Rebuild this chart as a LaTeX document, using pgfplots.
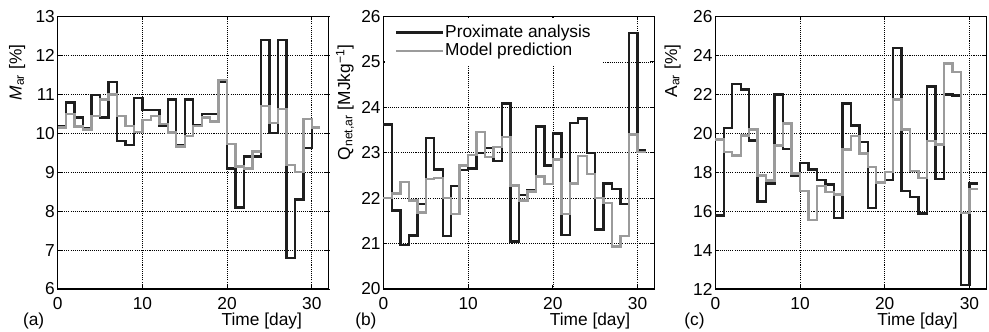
\documentclass[border=0pt]{standalone}
\usepackage{pgfplots}
\pgfplotsset{compat=1.18}
\usepackage{pgfplotstable}
\usepackage{fontspec}
\setmainfont{Liberation Sans}

\definecolor{lblack}{RGB}{30,30,30}
\definecolor{lgray}{RGB}{155,155,155}

\pgfplotstableread{
d v
0 10.19
1 10.79
2 10.41
3 10.13
4 10.98
5 10.40
6 11.32
7 9.80
8 9.70
9 10.90
10 10.60
11 10.60
12 10.20
13 10.87
14 9.70
15 10.87
16 10.21
17 10.50
18 10.50
19 11.32
20 9.09
21 8.09
22 9.40
23 9.40
24 12.39
25 10.00
26 12.39
27 6.79
28 8.30
29 9.62
30 10.13
31 10.13
}\Ablack
\pgfplotstableread{
d v
0 10.15
1 10.50
2 10.17
3 10.10
4 10.44
5 10.87
6 11.00
7 10.44
8 10.19
9 10.04
10 10.34
11 10.44
12 10.24
13 10.02
14 9.66
15 9.93
16 10.19
17 10.41
18 10.30
19 11.37
20 9.72
21 9.15
22 9.09
23 9.53
24 10.70
25 10.27
26 10.62
27 9.19
28 9.00
29 10.36
30 10.15
31 10.15
}\Agray
\pgfplotstableread{
d v
0 23.62
1 21.73
2 20.97
3 21.18
4 21.87
5 23.32
6 22.63
7 21.17
8 22.27
9 22.62
10 22.65
11 23.00
12 23.10
13 22.82
14 24.08
15 21.05
16 22.07
17 22.18
18 23.58
19 22.72
20 23.42
21 21.19
22 23.66
23 23.75
24 23.00
25 21.31
26 22.32
27 22.20
28 21.87
29 25.63
30 23.05
31 23.05
}\Bblack
\pgfplotstableread{
d v
0 22.00
1 22.10
2 22.35
3 21.95
4 21.68
5 22.42
6 22.45
7 22.00
8 21.65
9 22.72
10 22.95
11 23.45
12 22.90
13 23.12
14 23.35
15 22.28
16 21.95
17 22.15
18 22.48
19 22.31
20 22.85
21 21.65
22 22.32
23 22.93
24 22.53
25 22.00
26 21.89
27 20.94
28 21.17
29 23.40
30 23.02
31 23.02
}\Bgray
\pgfplotstableread{
d v
0 15.77
1 20.27
2 22.52
3 22.24
4 19.62
5 16.50
6 17.41
7 21.99
8 19.20
9 17.84
10 18.48
11 18.13
12 17.59
13 17.36
14 15.65
15 21.52
16 20.39
17 19.54
18 16.16
19 17.48
20 17.59
21 24.38
22 17.02
23 16.73
24 15.87
25 22.41
26 17.65
27 21.99
28 21.93
29 12.22
30 17.41
31 17.41
}\Cblack
\pgfplotstableread{
d v
0 19.67
1 19.04
2 18.85
3 19.88
4 20.19
5 17.84
6 17.57
7 19.37
8 20.50
9 17.93
10 17.02
11 15.53
12 17.28
13 16.97
14 16.85
15 19.16
16 19.85
17 18.96
18 18.27
19 17.48
20 18.00
21 21.73
22 20.19
23 18.05
24 17.70
25 19.59
26 19.42
27 23.58
28 23.15
29 15.91
30 17.14
31 17.14
}\Cgray

\newcommand{\lblfont}{\fontsize{13}{15}\selectfont}

\pgfplotsset{
  myaxis/.style={
    scale only axis, width=203.25pt, height=204.4pt,
    xmin=0, xmax=32, xtick={0,10,20,30},
    clip=false,
    grid=major,
    major grid style={black, line width=0.5pt, dash pattern=on 0.8pt off 0.8pt},
    axis line style={line width=1.1pt, black},
    tick style={black, line width=0.6pt},
    major tick length=3pt, tick align=inside,
    tick label style={font=\lblfont, inner sep=1.5pt},
    /pgf/number format/assume math mode=true,
    xticklabel style={yshift=-4.3pt},
    yticklabel style={xshift=-0.5pt},
    every axis y label/.style={rotate=90, anchor=east, font=\lblfont},
    every axis x label/.style={anchor=center, font=\lblfont},
  },
  blk/.style={const plot, color=lblack, line width=1.8pt, line join=miter},
  gry/.style={const plot, color=lgray, line width=1.8pt, line join=miter},
}

\begin{document}
\begin{tikzpicture}
\useasboundingbox (0,0) rectangle (741.75pt,249pt);

% (a)
\begin{axis}[myaxis, at={(43.3pt,32.25pt)}, anchor=south west,
  ymin=6, ymax=13, ytick={6,7,...,13},
  ylabel={\textit{M}\textsubscript{ar} [\%]},
  ylabel style={at={(axis description cs:-0.15,0.914)}},
  xlabel={Time [day]},
  xlabel style={at={(axis description cs:0.753,-0.117)}},
]
\addplot[blk] table[x=d,y=v] {\Ablack};
\addplot[gry] table[x=d,y=v] {\Agray};
\node[font=\lblfont] at (axis description cs:-0.089,-0.117) {(a)};
\end{axis}

% (b)
\begin{axis}[myaxis, at={(287.6pt,32.25pt)}, anchor=south west,
  ymin=20, ymax=26, ytick={20,21,...,26},
  ylabel={Q\textsubscript{net,ar} [MJkg\textsuperscript{−1}]},
  ylabel style={at={(axis description cs:-0.142,0.914)}},
  xlabel={Time [day]},
  xlabel style={at={(axis description cs:0.762,-0.117)}},
  legend style={at={(axis description cs:0.004,0.996)}, anchor=north west,
    draw=none, fill=white, font=\lblfont,
    inner xsep=7.5pt, inner ysep=4pt, row sep=0pt,
    nodes={inner sep=1pt, text height=9.5pt, text depth=2.5pt}},
  legend cell align=left,
  legend image code/.code={\draw[#1] (0pt,0pt) -- (35pt,0pt);},
]
\addplot[blk] table[x=d,y=v] {\Bblack};
\addlegendentry{Proximate analysis}
\addplot[gry] table[x=d,y=v] {\Bgray};
\addlegendentry{Model prediction}
\node[font=\lblfont] at (axis description cs:-0.065,-0.117) {(b)};
\end{axis}

% (c)
\begin{axis}[myaxis, at={(536.5pt,32.25pt)}, anchor=south west,
  ymin=12, ymax=26, ytick={12,14,...,26},
  ylabel={A\textsubscript{ar} [\%]},
  ylabel style={at={(axis description cs:-0.158,0.914)}},
  xlabel={Time [day]},
  xlabel style={at={(axis description cs:0.746,-0.117)}},
]
\addplot[blk] table[x=d,y=v] {\Cblack};
\addplot[gry] table[x=d,y=v] {\Cgray};
\node[font=\lblfont] at (axis description cs:-0.077,-0.117) {(c)};
\end{axis}
\end{tikzpicture}
\end{document}
